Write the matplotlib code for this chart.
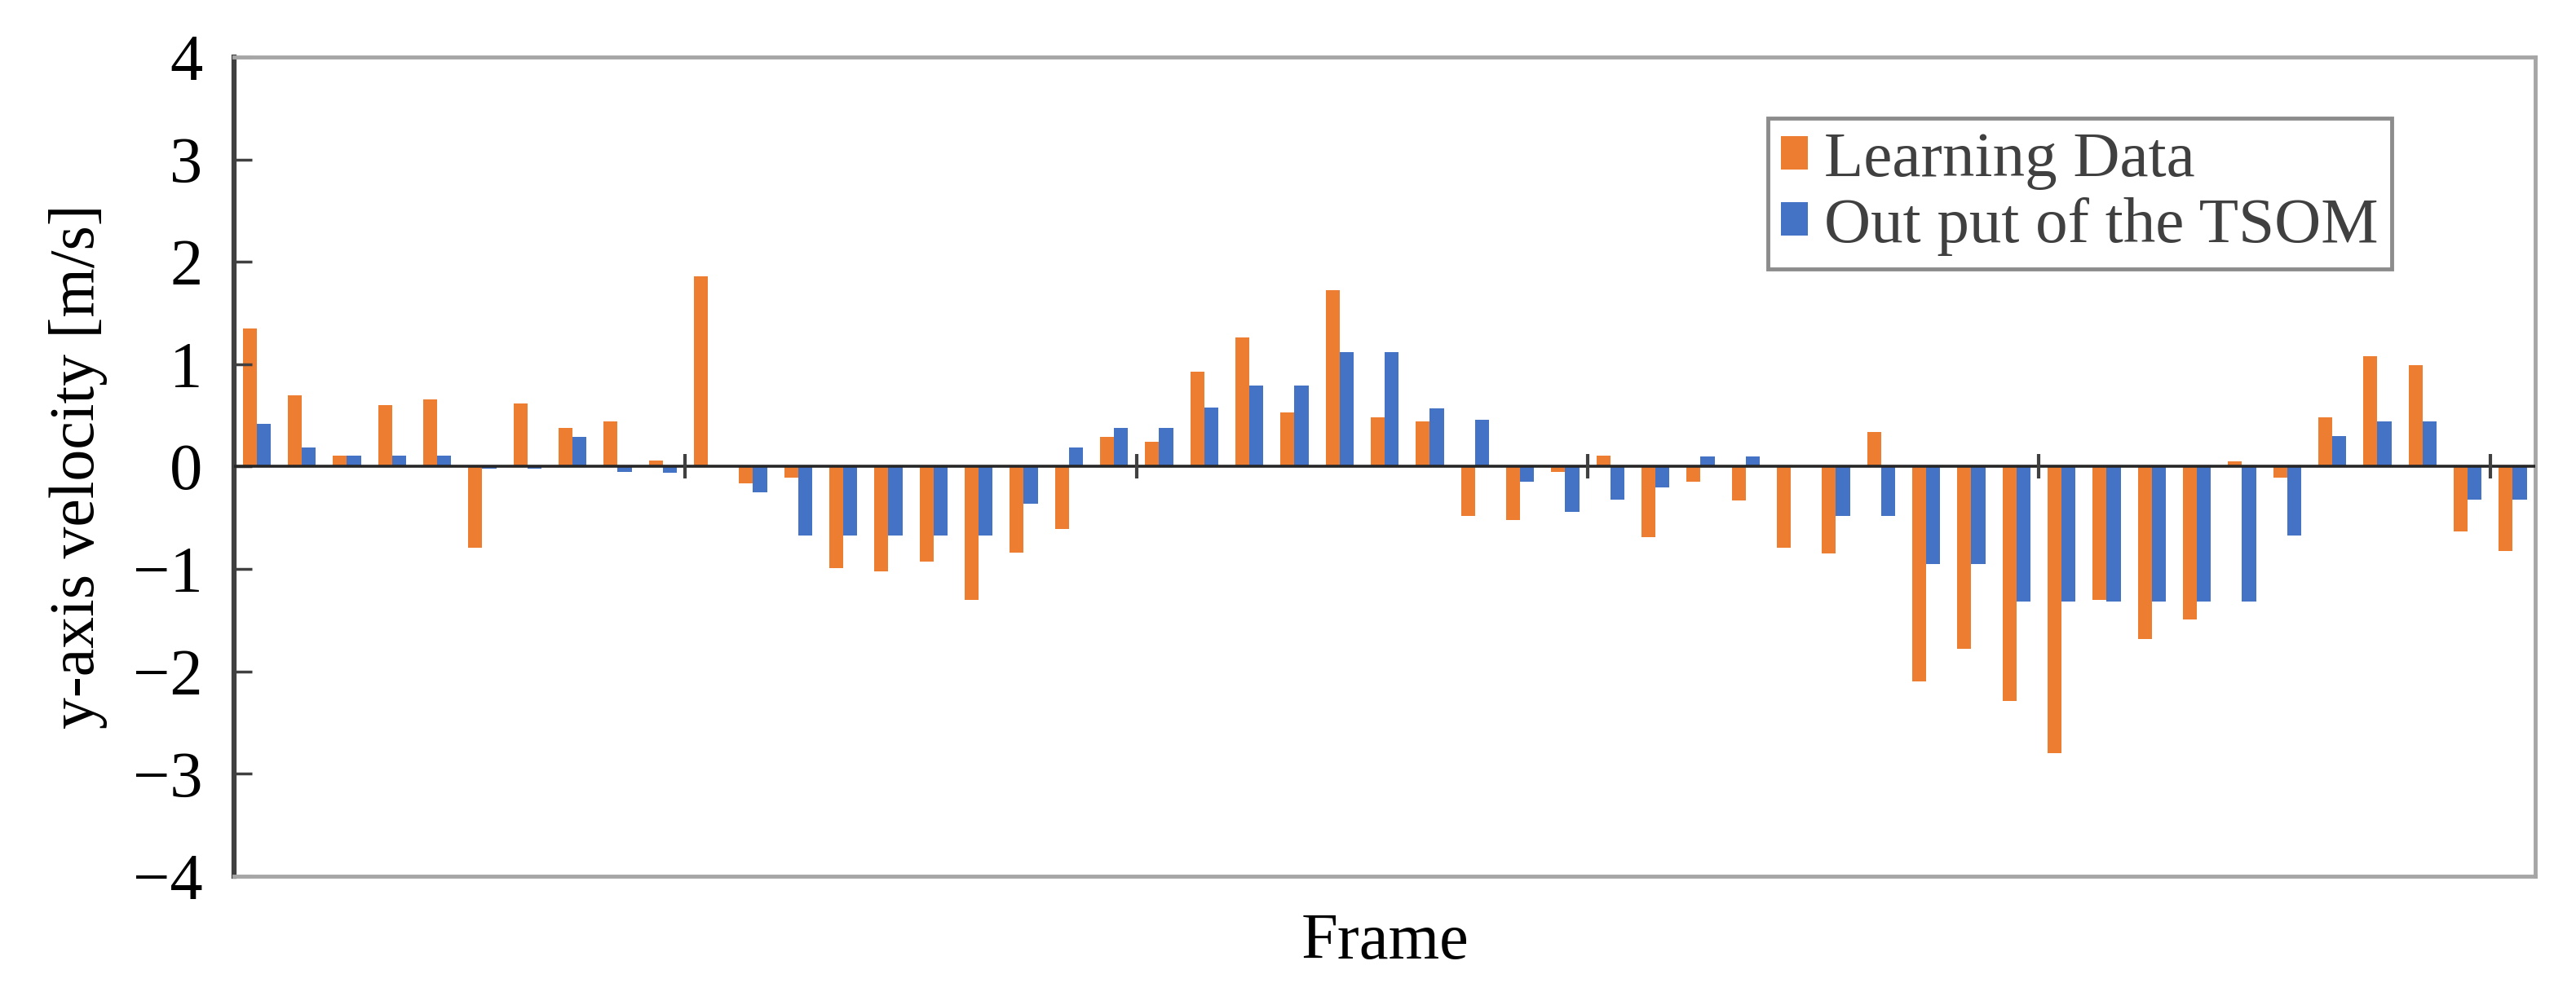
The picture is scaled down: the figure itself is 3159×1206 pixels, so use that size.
import matplotlib
matplotlib.use("Agg")

import matplotlib.pyplot as plt
import numpy as np

plt.rcParams.update({
    "font.family": ["Liberation Serif", "DejaVu Serif"],
    "font.size": 58,
    "axes.unicode_minus": True,
})

ORANGE = "#ED7D31"
BLUE = "#4472C4"

# y-axis velocity [m/s] per frame
learning_data = [
    1.35, 0.70, 0.11, 0.60, 0.66, -0.79, 0.62, 0.38, 0.44, 0.06,
    1.86, -0.16, -0.11, -0.99, -1.02, -0.93, -1.30, -0.84, -0.61, 0.29,
    0.24, 0.93, 1.26, 0.53, 1.72, 0.48, 0.44, -0.48, -0.52, -0.05,
    0.11, -0.69, -0.15, -0.33, -0.79, -0.85, 0.34, -2.10, -1.78, -2.29,
    -2.80, -1.30, -1.68, -1.49, 0.05, -0.11, 0.48, 1.08, 0.99, -0.63,
    -0.82,
]
tsom_output = [
    0.42, 0.19, 0.11, 0.11, 0.11, -0.02, -0.02, 0.29, -0.05, -0.06,
    0.00, -0.25, -0.67, -0.67, -0.67, -0.67, -0.67, -0.36, 0.19, 0.38,
    0.38, 0.58, 0.79, 0.79, 1.12, 1.12, 0.57, 0.46, -0.15, -0.44,
    -0.32, -0.20, 0.10, 0.10, 0.00, -0.48, -0.48, -0.95, -0.95, -1.32,
    -1.32, -1.32, -1.32, -1.32, -1.32, -0.67, 0.30, 0.44, 0.44, -0.32,
    -0.32,
]
y_ticks = [-4, -3, -2, -1, 0, 1, 2, 3, 4]

n = len(learning_data)
x = np.arange(n)
width = 0.31

fig = plt.figure(figsize=(31.59, 12.06), dpi=100)
ax = fig.add_axes([0.0909, 0.1086, 0.8933, 0.8334])

ax.bar(x - width / 2, learning_data, width, color=ORANGE, label="Learning Data")
ax.bar(x + width / 2, tsom_output, width, color=BLUE, label="Out put of the TSOM")

# horizontal category axis crossing at zero, tick mark every 10 frames
ax.axhline(0, color="#262626", lw=2.6, zorder=3)
boundaries = np.arange(9.5, n, 10)
ax.plot(boundaries, np.zeros_like(boundaries), ls="none", marker="|",
        ms=22, mew=3, color="#404040", zorder=4)

ax.set_xlim(-0.5, n - 0.5)
ax.set_ylim(-4, 4)
ax.set_xticks([])
ax.set_yticks(y_ticks)
ax.set_yticklabels([str(t).replace("-", "\u2212") for t in y_ticks])
ax.tick_params(axis="y", direction="in", length=16, width=2.5,
               color="#404040", pad=28, labelsize=58)

for side in ["top", "right", "bottom"]:
    ax.spines[side].set_color("#a6a6a6")
    ax.spines[side].set_linewidth(3.5)
ax.spines["left"].set_color("#404040")
ax.spines["left"].set_linewidth(4.5)

ax.set_ylabel("y-axis velocity [m/s]", fontsize=56, labelpad=22)
ax.text(0.5, -0.045, "Frame", transform=ax.transAxes, ha="center", va="top",
        fontsize=58)

leg = ax.legend(loc="upper left", bbox_to_anchor=(0.6666, 0.925),
                frameon=True, fancybox=False, framealpha=1,
                edgecolor="#8c8c8c", fontsize=57,
                handlelength=0.42, handleheight=0.42, handletextpad=0.25,
                labelspacing=0.12, borderpad=0.2, borderaxespad=0)
leg.get_frame().set_linewidth(3.5)
for t in leg.get_texts():
    t.set_color("#404040")

fig.savefig("out.png", dpi=100)
